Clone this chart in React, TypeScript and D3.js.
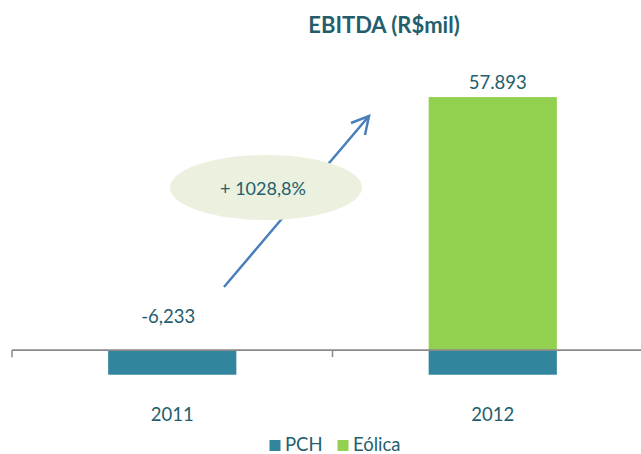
import React from "react";
import * as d3 from "d3";

const categories = ["2011", "2012"];
const pchValues = [-6233, -6233];
const eolicaValues = [0, 64126];
const dataLabels = ["-6,233", "57.893"];
const seriesNames = ["PCH", "Eólica"];
const growthLabel = "+ 1028,8%";
const title = "EBITDA (R$mil)";

const W = 641;
const H = 454;
const TEAL = "#31859C";
const GREEN = "#92D050";
const TEXT = "#245E6C";
const FONT = "Lato, 'Open Sans', sans-serif";

export default function App() {
  const x = d3
    .scaleBand<string>()
    .domain(categories)
    .range([12, 653])
    .paddingInner(0.6)
    .paddingOuter(0.3);
  const y = d3.scaleLinear().domain([-10000, 70000]).range([389.6, 73.9]);
  const step = x.step();
  const y0 = y(0);

  const tickXs = [12, 12 + step, 12 + 2 * step];

  return (
    <svg
      width={W}
      height={H}
      style={{ position: "absolute", left: 0, top: 0, background: "#fff" }}
      fontFamily={FONT}
    >
      <text
        x={384}
        y={33}
        textAnchor="middle"
        fontSize={22}
        fontWeight="bold"
        fill={TEXT}
      >
        {title}
      </text>

      {categories.map((c, i) => (
        <g key={c}>
          <rect
            x={x(c)}
            width={x.bandwidth()}
            y={y(0)}
            height={y(pchValues[i]) - y(0)}
            fill={TEAL}
          />
          {eolicaValues[i] > 0 && (
            <rect
              x={x(c)}
              width={x.bandwidth()}
              y={y(eolicaValues[i])}
              height={y(0) - y(eolicaValues[i])}
              fill={GREEN}
            />
          )}
          <text
            x={(x(c) as number) + x.bandwidth() / 2}
            y={421}
            textAnchor="middle"
            fontSize={18.5}
            fill={TEXT}
          >
            {c}
          </text>
        </g>
      ))}

      {/* axis */}
      <line x1={12} x2={W} y1={y0} y2={y0} stroke="#898989" strokeWidth={1.8} />
      {tickXs.map((tx, i) => (
        <line key={i} x1={tx} x2={tx} y1={y0} y2={y0 + 7} stroke="#898989" strokeWidth={1.5} />
      ))}

      {/* data labels */}
      <text
        x={(x(categories[0]) as number) + x.bandwidth() / 2 - 4}
        y={323}
        textAnchor="middle"
        fontSize={18.5}
        fill={TEXT}
      >
        {dataLabels[0]}
      </text>
      <text
        x={(x(categories[1]) as number) + x.bandwidth() / 2 + 5}
        y={89}
        textAnchor="middle"
        fontSize={18.5}
        fill={TEXT}
      >
        {dataLabels[1]}
      </text>

      {/* arrow */}
      <line x1={224} y1={287} x2={369} y2={116} stroke="#4A7EBB" strokeWidth={2.5} />
      <polyline
        points="351,123 369,116 365,135"
        fill="none"
        stroke="#4A7EBB"
        strokeWidth={2.5}
        strokeLinejoin="miter"
      />

      {/* ellipse */}
      <ellipse cx={266} cy={187.5} rx={96} ry={32.5} fill="#EBF1DE" />
      <text x={263} y={195} textAnchor="middle" fontSize={18} fill={TEXT}>
        {growthLabel}
      </text>

      {/* legend */}
      <rect x={269.5} y={440} width={11} height={11} fill={TEAL} />
      <text x={285} y={450.5} fontSize={18.5} fill={TEXT}>
        {seriesNames[0]}
      </text>
      <rect x={337.5} y={440} width={11} height={11} fill={GREEN} />
      <text x={353} y={450.5} fontSize={18.5} fill={TEXT}>
        {seriesNames[1]}
      </text>
    </svg>
  );
}
